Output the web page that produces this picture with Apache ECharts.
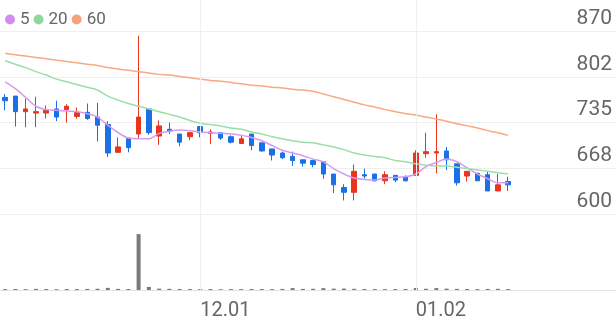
<!DOCTYPE html>
<html><head><meta charset="utf-8">
<script src="https://cdn.jsdelivr.net/npm/echarts@6/dist/echarts.min.js"></script>
<style>html,body{margin:0;padding:0;background:#fff}#c{width:616px;height:321px}</style>
</head><body><div id="c"></div>
<script>
const dates = ['11.04','11.07','11.08','11.09','11.10','11.11','11.14','11.15','11.16','11.17','11.18','11.21','11.22','11.23','11.24','11.25','11.28','11.29','11.30',
  '12.01','12.02','12.05','12.06','12.07','12.08','12.09','12.12','12.13','12.14','12.15','12.16','12.19','12.20','12.21','12.22','12.23','12.26','12.27','12.28','12.29',
  '01.02','01.03','01.04','01.05','01.06','01.09','01.10','01.11','01.12','01.13'];
const futureDates = ['01.16','01.17','01.18','01.19','01.20','01.25','01.26','01.27','01.30','01.31'];
const opens  = [772,774,751,749,749,755,754,744,750,743,732,691,712,718,755,715,725,718,714,729,719,720,714,704,718,705,696,690,685,680,679,677,659,639,632,658,659,649,657,655,657,689,690,693,674,656,660,658,634,648];
const closes = [767,751,755,751,753,743,759,750,741,731,690,699,698,743,720,730,722,706,720,720,721,712,706,711,701,693,687,683,679,675,673,659,643,632,663,656,649,658,650,649,690,692,692,680,646,663,649,634,643,643];
const lows   = [753,729,728,728,741,737,735,741,739,707,684,691,691,711,717,702,718,700,709,713,703,709,704,704,694,692,679,681,671,670,669,652,631,620,620,652,648,644,647,648,657,683,660,665,642,648,649,634,634,634];
const highs  = [777,774,770,773,760,767,762,757,763,764,737,713,712,863,755,738,735,718,720,729,725,720,716,717,718,705,696,692,692,680,680,677,659,644,673,667,659,663,657,657,694,720,747,699,674,663,661,662,659,655];
const volumes = [16,18,15,20,17,14,18,16,19,22,38,20,18,1000,55,24,21,18,16,15,17,14,16,15,18,17,16,19,34,20,22,33,24,26,21,18,16,15,17,19,36,22,34,24,20,18,16,19,21,17];
const ma5  = [795,785,772,759,754,753,752,751,748,743,731,720,712,711,711,719,722,724,723,721,720,719,718,716,713,708,701,694,690,686,681,677,667,659,653,651,650,653,654,655,659,670,676,681,677,668,659,652,646,646];
const ma20 = [826,821,816,810,805,799,795,791,787,783,774,768,763,759,755,751,747,743,738,734,732,730,727,725,721,718,714,711,708,706,705,702,699,695,690,687,685,683,679,677,674,672,671,671,669,667,665,663,661,659];
const ma60 = [837,835,833,831,829,827,825,823,821,819,816,814,812,810,808,806,805,803,801,799,797,796,794,792,790,789,787,786,784,783,781,777,773,769,765,761,758,754,751,748,746,743,740,737,733,730,727,723,720,716];
const yTickLabels = ['600','668','735','802','870'];
const xLabelDates = ['12.01','01.02'];
const maNames = ['5','20','60'];

const allDates = dates.concat(futureDates);
const UP = '#e8351e', DOWN = '#1a70e6';
const FONT = 'Roboto';
const gridLineColor = '#efefef';
const vLines = { silent: true, symbol: ['none','none'], label: {show:false},
  lineStyle: {color: gridLineColor, type: 'solid', width: 1},
  emphasis: {disabled: true},
  data: xLabelDates.map(d => ({xAxis: d})) };
const hiddenCat = (g) => ({type: 'category', gridIndex: g, data: allDates, boundaryGap: true,
  axisLine: {show: false}, axisTick: {show: false}, axisLabel: {show: false}, splitLine: {show: false}});

const chart = echarts.init(document.getElementById('c'), null, {renderer: 'canvas'});
chart.setOption({
  animation: false,
  textStyle: {fontFamily: FONT},
  legend: {
    data: maNames, left: 0, top: 6, icon: 'circle', itemWidth: 10, itemHeight: 10, itemGap: 4,
    textStyle: {color: '#666', fontSize: 17, fontFamily: FONT}
  },
  grid: [
    {left: 0, right: 0, top: 31, height: 183},
    {left: 0, right: 0, top: 214, height: 79},
    {left: 0, right: 0, top: 0, height: 31}
  ],
  xAxis: [
    hiddenCat(0),
    {type: 'category', gridIndex: 1, data: allDates, boundaryGap: true,
     axisLine: {show: true, lineStyle: {color: '#e2e2e2'}}, axisTick: {show: false}, splitLine: {show: false},
     axisLabel: {interval: (i, v) => xLabelDates.includes(v), align: 'left', color: '#666', fontSize: 20, fontFamily: FONT, margin: 11}},
    hiddenCat(2)
  ],
  yAxis: [
    {type: 'value', gridIndex: 0, position: 'right', min: 600, max: 870, interval: 67.5, scale: true,
     axisLine: {show: false}, axisTick: {show: false},
     splitLine: {show: true, lineStyle: {color: gridLineColor}},
     axisLabel: {inside: true, margin: 4, color: '#666', fontSize: 21, fontFamily: FONT, verticalAlign: 'bottom', padding: [0,0,2,0],
       formatter: (v, i) => yTickLabels[i]}},
    {type: 'value', gridIndex: 1, min: 0, max: 1360,
     axisLine: {show: false}, axisTick: {show: false}, axisLabel: {show: false}, splitLine: {show: false}},
    {type: 'value', gridIndex: 2, min: 0, max: 1,
     axisLine: {show: false}, axisTick: {show: false}, axisLabel: {show: false}, splitLine: {show: false}}
  ],
  series: [
    {type: 'line', xAxisIndex: 0, yAxisIndex: 0, data: [], silent: true, markLine: vLines},
    {type: 'line', xAxisIndex: 2, yAxisIndex: 2, data: [], silent: true, markLine: vLines},
    {type: 'candlestick', xAxisIndex: 0, yAxisIndex: 0, barWidth: 5,
     data: dates.map((d, i) => [opens[i], closes[i], lows[i], highs[i]]),
     itemStyle: {color: UP, color0: DOWN, borderColor: UP, borderColor0: DOWN, borderWidth: 1}},
    {name: maNames[0], type: 'line', xAxisIndex: 0, yAxisIndex: 0, data: ma5, symbol: 'none', smooth: 0.3,
     itemStyle: {color: '#cf8df2'}, lineStyle: {width: 1.5, color: '#d69af3'}},
    {name: maNames[1], type: 'line', xAxisIndex: 0, yAxisIndex: 0, data: ma20, symbol: 'none', smooth: 0.3,
     itemStyle: {color: '#8fd89c'}, lineStyle: {width: 1.5, color: '#9adfa6'}},
    {name: maNames[2], type: 'line', xAxisIndex: 0, yAxisIndex: 0, data: ma60, symbol: 'none', smooth: 0.3,
     itemStyle: {color: '#f7a27b'}, lineStyle: {width: 1.5, color: '#f8a985'}},
    {type: 'bar', xAxisIndex: 1, yAxisIndex: 1, data: volumes, barWidth: 4,
     itemStyle: {color: '#7a7a7a'}, markLine: vLines}
  ]
});
</script>
</body></html>
